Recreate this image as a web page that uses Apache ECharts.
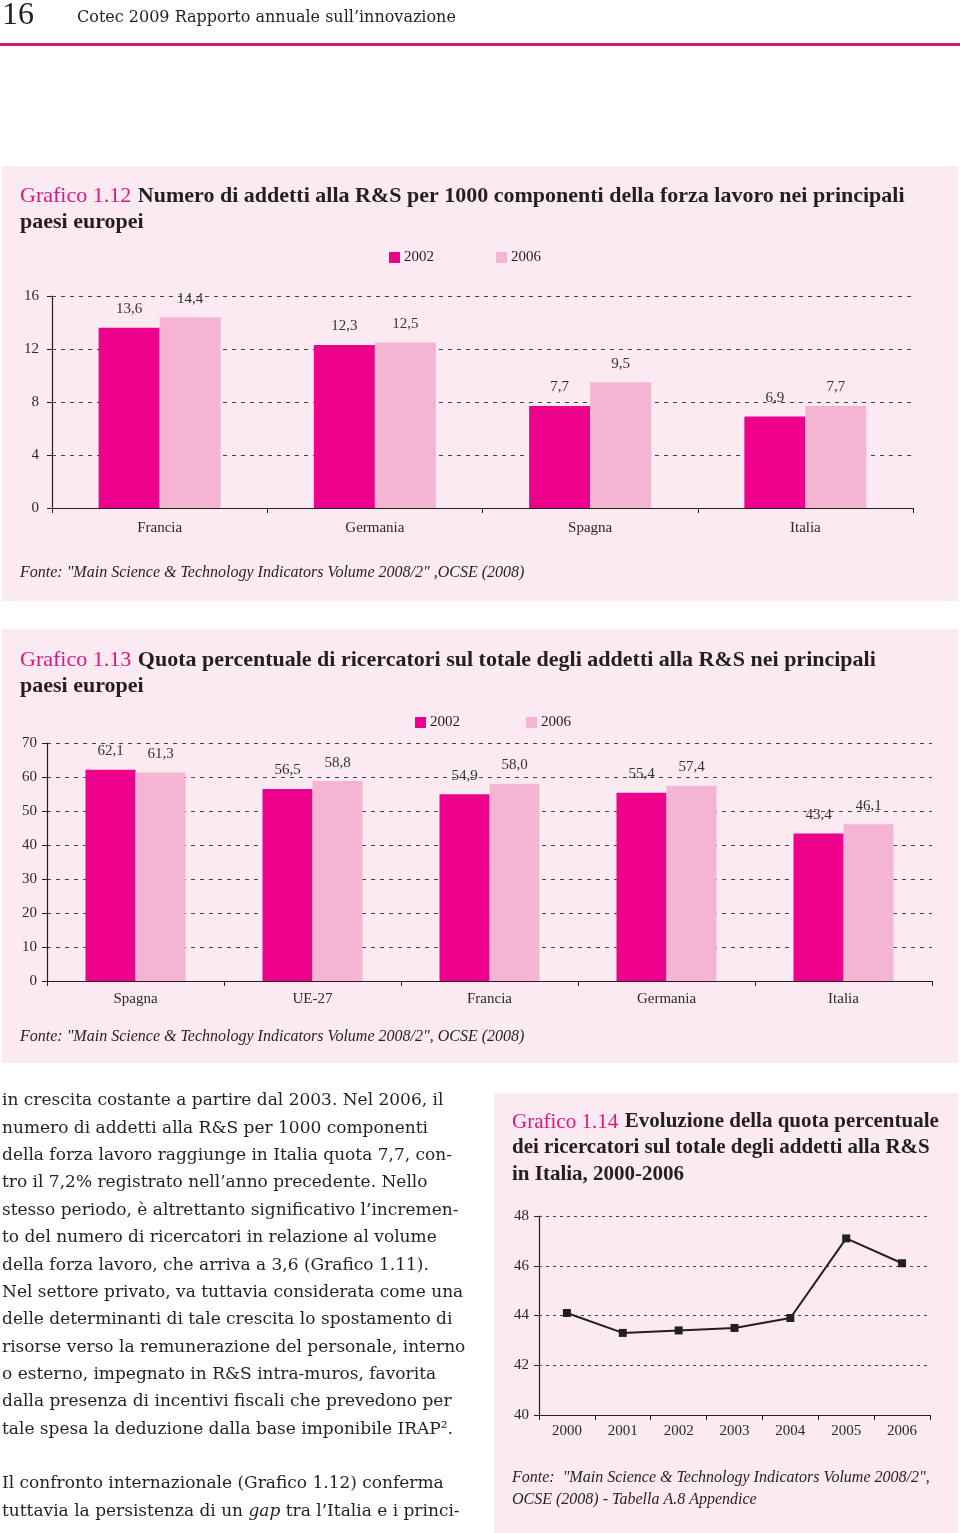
<!DOCTYPE html>
<html><head><meta charset="utf-8">
<script src="https://cdn.jsdelivr.net/npm/echarts@6/dist/echarts.min.js"></script>
<style>html,body{margin:0;padding:0;background:#fff}#c{width:960px;height:1533px}</style>
</head><body><div id="c"></div>
<script>
// ---- Data ----
var cat12 = ['Francia', 'Germania', 'Spagna', 'Italia'];
var v12_2002 = [13.6, 12.3, 7.7, 6.9];
var v12_2006 = [14.4, 12.5, 9.5, 7.7];
var ticks12 = [0, 4, 8, 12, 16];

var cat13 = ['Spagna', 'UE-27', 'Francia', 'Germania', 'Italia'];
var v13_2002 = [62.1, 56.5, 54.9, 55.4, 43.4];
var v13_2006 = [61.3, 58.8, 58.0, 57.4, 46.1];
var ticks13 = [0, 10, 20, 30, 40, 50, 60, 70];

var years14 = ['2000', '2001', '2002', '2003', '2004', '2005', '2006'];
var v14 = [44.1, 43.3, 43.4, 43.5, 43.9, 47.1, 46.1];
var ticks14 = [40, 42, 44, 46, 48];

var bodyLines = [
  'in crescita costante a partire dal 2003. Nel 2006, il',
  'numero di addetti alla R&S per 1000 componenti',
  'della forza lavoro raggiunge in Italia quota 7,7, con-',
  'tro il 7,2% registrato nell\u2019anno precedente. Nello',
  'stesso periodo, \u00e8 altrettanto significativo l\u2019incremen-',
  'to del numero di ricercatori in relazione al volume',
  'della forza lavoro, che arriva a 3,6 (Grafico 1.11).',
  'Nel settore privato, va tuttavia considerata come una',
  'delle determinanti di tale crescita lo spostamento di',
  'risorse verso la remunerazione del personale, interno',
  'o esterno, impegnato in R&S intra-muros, favorita',
  'dalla presenza di incentivi fiscali che prevedono per',
  'tale spesa la deduzione dalla base imponibile IRAP\u00b2.'
];
var bodyLines2 = [
  'Il confronto internazionale (Grafico 1.12) conferma',
  'tuttavia la persistenza di un {i|gap} tra l\u2019Italia e i princi-'
];

// ---- Styles ----
var SERIF = '"Liberation Serif", "DejaVu Serif", serif';
var BOOK = '"DejaVu Serif", "Liberation Serif", serif';
var MAG = '#EC008C', PINK = '#F5B5D2', PANEL = '#FCEAF2', INK = '#231F20', TITLE_MAG = '#E2147F';

function fmt(p) { return p.value.toFixed(1).replace('.', ','); }
function labelCfg() {
  return { show: true, position: 'top', distance: 11, fontFamily: SERIF, fontSize: 15, color: '#333', formatter: fmt };
}
function txt(x, y, text, font, fill, extra) {
  var s = { x: x, y: y, text: text, font: font, fill: fill || INK, verticalAlign: 'middle', align: 'left' };
  if (extra) for (var k in extra) s[k] = extra[k];
  return { type: 'text', z: 5, style: s };
}
function titleRich(x, y, num, rest, size) {
  return { type: 'text', z: 5, style: { x: x, y: y, verticalAlign: 'middle', text: '{a|' + num + '}  {b|' + rest + '}',
    rich: { a: { font: size + 'px ' + SERIF, fill: TITLE_MAG }, b: { font: 'bold ' + size + 'px ' + SERIF, fill: INK } } } };
}

var graphics = [
  { type: 'rect', z: -10, shape: { x: 2, y: 166, width: 956, height: 435 }, style: { fill: PANEL } },
  { type: 'rect', z: -10, shape: { x: 2, y: 629, width: 956, height: 434 }, style: { fill: PANEL } },
  { type: 'rect', z: -10, shape: { x: 494, y: 1093, width: 464, height: 440 }, style: { fill: PANEL } },
  { type: 'rect', z: -10, shape: { x: 0, y: 43, width: 960, height: 3 }, style: { fill: '#D6127F' } },
  txt(2, 16, '16', '32px ' + SERIF, INK),
  txt(77, 18, 'Cotec 2009 Rapporto annuale sull\u2019innovazione', '16px ' + BOOK, INK),
  // titles
  titleRich(20, 196, 'Grafico 1.12', 'Numero di addetti alla R&S per 1000 componenti della forza lavoro nei principali', 22),
  txt(20, 222, 'paesi europei', 'bold 22px ' + SERIF, INK),
  txt(20, 573, 'Fonte: "Main Science & Technology Indicators Volume 2008/2" ,OCSE (2008)', 'italic 16px ' + SERIF, INK),
  titleRich(20, 660, 'Grafico 1.13', 'Quota percentuale di ricercatori sul totale degli addetti alla R&S nei principali', 22),
  txt(20, 686, 'paesi europei', 'bold 22px ' + SERIF, INK),
  txt(20, 1037, 'Fonte: "Main Science & Technology Indicators Volume 2008/2", OCSE (2008)', 'italic 16px ' + SERIF, INK),
  titleRich(512, 1122, 'Grafico 1.14', 'Evoluzione della quota percentuale', 21),
  txt(512, 1148, 'dei ricercatori sul totale degli addetti alla R&S', 'bold 21px ' + SERIF, INK),
  txt(512, 1175, 'in Italia, 2000-2006', 'bold 21px ' + SERIF, INK),
  txt(512, 1478, 'Fonte:  "Main Science & Technology Indicators Volume 2008/2",', 'italic 16px ' + SERIF, INK),
  txt(512, 1500, 'OCSE (2008) - Tabella A.8 Appendice', 'italic 16px ' + SERIF, INK)
];
bodyLines.forEach(function (l, i) {
  graphics.push(txt(2, 1101 + i * 27.35, l, '17px ' + BOOK, INK));
});
bodyLines2.forEach(function (l, i) {
  graphics.push({ type: 'text', z: 5, style: { x: 2, y: 1484 + i * 27.3, verticalAlign: 'middle', text: l, font: '17px ' + BOOK, fill: INK,
    rich: { i: { font: 'italic 17px ' + BOOK, fill: INK } } } });
});

function yAxisCfg(gi, min, max, interval, margin, dash) {
  return {
    type: 'value', gridIndex: gi, min: min, max: max, interval: interval,
    axisLine: { show: true, lineStyle: { color: INK, width: 1.2 } },
    axisTick: { show: true, length: 5, lineStyle: { color: INK } },
    axisLabel: { fontFamily: SERIF, fontSize: 15, color: '#2a2a2a', margin: margin },
    splitLine: { show: true, lineStyle: { color: '#444', width: 1, type: dash } }
  };
}
function xAxisCfg(gi, data, margin) {
  return {
    type: 'category', gridIndex: gi, data: data,
    axisLine: { show: true, lineStyle: { color: INK, width: 1.2 } },
    axisTick: { show: true, length: 5, lineStyle: { color: INK } },
    axisLabel: { fontFamily: SERIF, fontSize: 15, color: '#2a2a2a', margin: margin }
  };
}

var option = {
  animation: false,
  backgroundColor: '#fff',
  graphic: graphics,
  legend: [
    { data: ['2002', '2006'], left: 389, top: 250, padding: 0, itemWidth: 11, itemHeight: 11, itemGap: 62, icon: 'rect', selectedMode: false,
      textStyle: { fontFamily: SERIF, fontSize: 15, color: INK, padding: [0, 0, 0, -1] } },
    { data: ['2002', '2006'], left: 415, top: 715, padding: 0, itemWidth: 11, itemHeight: 11, itemGap: 66, icon: 'rect', selectedMode: false,
      textStyle: { fontFamily: SERIF, fontSize: 15, color: INK, padding: [0, 0, 0, -1] } }
  ],
  grid: [
    { left: 52, right: 47, top: 296, bottom: 1025 },
    { left: 47, right: 28, top: 743, bottom: 552 },
    { left: 539, right: 30, top: 1216, bottom: 118 }
  ],
  xAxis: [xAxisCfg(0, cat12, 13), xAxisCfg(1, cat13, 11), xAxisCfg(2, years14, 9)],
  yAxis: [
    yAxisCfg(0, ticks12[0], ticks12[ticks12.length - 1], ticks12[1] - ticks12[0], 13, [4, 5]),
    yAxisCfg(1, ticks13[0], ticks13[ticks13.length - 1], ticks13[1] - ticks13[0], 10, [4, 5]),
    yAxisCfg(2, ticks14[0], ticks14[ticks14.length - 1], ticks14[1] - ticks14[0], 10, [3, 4])
  ],
  series: [
    { name: '2002', type: 'bar', xAxisIndex: 0, yAxisIndex: 0, data: v12_2002, barWidth: 61, barGap: '0%', itemStyle: { color: MAG }, label: labelCfg() },
    { name: '2006', type: 'bar', xAxisIndex: 0, yAxisIndex: 0, data: v12_2006, barWidth: 61, barGap: '0%', itemStyle: { color: PINK }, label: labelCfg() },
    { name: '2002', type: 'bar', xAxisIndex: 1, yAxisIndex: 1, data: v13_2002, barWidth: 50, barGap: '0%', itemStyle: { color: MAG }, label: labelCfg() },
    { name: '2006', type: 'bar', xAxisIndex: 1, yAxisIndex: 1, data: v13_2006, barWidth: 50, barGap: '0%', itemStyle: { color: PINK }, label: labelCfg() },
    { name: 'Italia', type: 'line', xAxisIndex: 2, yAxisIndex: 2, data: v14, symbol: 'rect', symbolSize: 8,
      lineStyle: { color: INK, width: 2 }, itemStyle: { color: INK } }
  ]
};
var chart = echarts.init(document.getElementById('c'), null, { renderer: 'canvas' });
chart.setOption(option);
</script>
</body></html>
